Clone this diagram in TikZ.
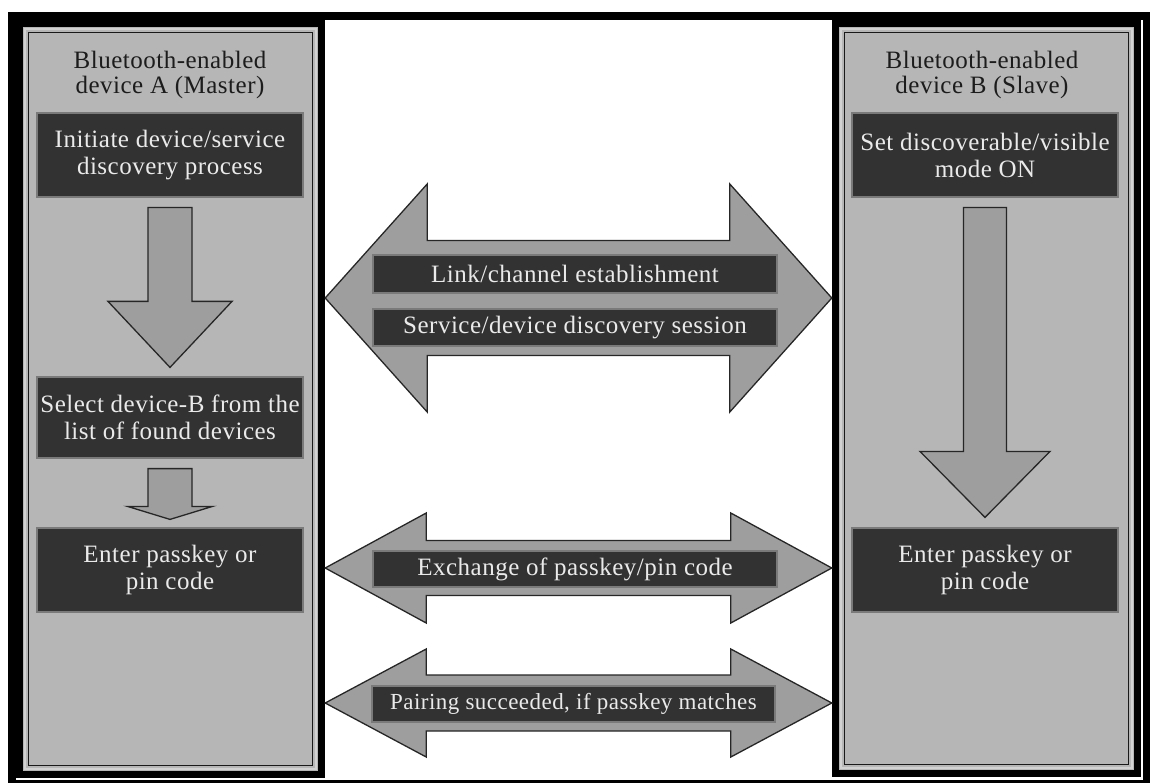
\documentclass[tikz,border=0pt]{standalone}
\usepackage{fontspec}
\setmainfont{Liberation Serif}[LetterSpace=2]
\usetikzlibrary{calc}
\definecolor{panelgray}{HTML}{B6B6B6}
\definecolor{boxdark}{HTML}{323232}
\definecolor{boxedge}{HTML}{7A7A7A}
\definecolor{arrowfill}{HTML}{9E9E9E}
\definecolor{lighttext}{HTML}{EAEAEA}
\definecolor{darktext}{HTML}{1C1C1C}
\definecolor{rimlight}{HTML}{D2D2D2}

\newcommand\blockdown[5]{%
  \path[blockarrow] let \p1=(#1), \p2=(#2) in
    (\x1-#3,\y1) -- (\x1+#3,\y1) -- (\x1+#3,\y2+#5) -- (\x1+#4,\y2+#5)
    -- (\x1,\y2) -- (\x1-#4,\y2+#5) -- (\x1-#3,\y2+#5) -- cycle;}
\newcommand\blockboth[5]{%
  \path[blockarrow] let \p1=(#1), \p2=(#2) in
    (\x1,\y1) -- (\x1+#5,\y1+#3) -- (\x1+#5,\y1+#4) -- (\x2-#5,\y1+#4)
    -- (\x2-#5,\y1+#3) -- (\x2,\y1) -- (\x2-#5,\y1-#3) -- (\x2-#5,\y1-#4)
    -- (\x1+#5,\y1-#4) -- (\x1+#5,\y1-#3) -- cycle;}

\begin{document}
\begin{tikzpicture}[x=1pt,y=-1pt,
  panelbox/.style={rectangle, fill=panelgray, draw=none, inner sep=0pt},
  darkbox/.style={rectangle, fill=boxdark, draw=boxedge, line width=1.2pt,
    text=lighttext, align=center, inner sep=0pt, minimum width=266pt,
    font=\fontsize{25}{27}\selectfont},
  midbox/.style={rectangle, fill=boxdark, draw=boxedge, line width=1.2pt,
    text=lighttext, align=center, inner sep=0pt, minimum width=404pt,
    font=\fontsize{25}{27}\selectfont},
  titletext/.style={align=center, text=darktext, inner sep=0pt,
    font=\fontsize{25}{25.5}\selectfont},
  blockarrow/.style={fill=arrowfill, draw=black!85, line width=1.3pt, line join=miter}
]
\useasboundingbox (0,0) rectangle (1151,783);
\fill[white] (0,0) rectangle (1151,783);

% outer frame
\fill[black] (8,12) rectangle (1150,20);
\fill[black] (8,12) rectangle (16,783);
\fill[black] (1143,12) rectangle (1150,783);
\fill[black] (8,779.5) rectangle (1150,783);

% panels
\node[panelbox, minimum width=309pt, minimum height=758pt] (lp) at (170.5,399) {};
\node[panelbox, minimum width=309pt, minimum height=757pt] (rp) at (986.5,398.5) {};
\foreach \p in {lp,rp}{
  \draw[black, line width=7pt] ([shift={(3.5,3.5)}]\p.north west) rectangle ([shift={(-3.5,-3.5)}]\p.south east);
  \draw[rimlight, line width=1.5pt] ([shift={(9,9)}]\p.north west) rectangle ([shift={(-9,-9)}]\p.south east);
  \draw[black!90, line width=1.5pt] ([shift={(12.5,12.5)}]\p.north west) rectangle ([shift={(-12.5,-12.5)}]\p.south east);
}

% titles
\node[titletext] (lt) at (170,75) {Bluetooth-enabled\\device A (Master)};
\node[titletext] (rt) at (982,75) {Bluetooth-enabled\\device B (Slave)};

% panel boxes
\node[darkbox, minimum height=84pt] (l1) at (170,155) {Initiate device/service\\discovery process};
\node[darkbox, minimum height=81pt] (l2) at (170,417.5) {Select device-B from the\\list of found devices};
\node[darkbox, minimum height=84pt] (l3) at (170,570) {Enter passkey or\\pin code};
\node[darkbox, minimum height=84pt] (r1) at (985,155) {Set discoverable/visible\\mode ON};
\node[darkbox, minimum height=84pt] (r2) at (985,570) {Enter passkey or\\pin code};

% vertical block arrows
\coordinate (v1a) at ($(l1.south)+(0,10)$);
\coordinate (v1b) at ($(l2.north)+(0,-9)$);
\blockdown{v1a}{v1b}{22pt}{62pt}{66pt}
\coordinate (v2a) at ($(l2.south)+(0,10)$);
\coordinate (v2b) at ($(l3.north)+(0,-8)$);
\blockdown{v2a}{v2b}{22pt}{42.5pt}{13pt}
\coordinate (v3a) at ($(r1.south)+(0,10)$);
\coordinate (v3b) at ($(r2.north)+(0,-10)$);
\blockdown{v3a}{v3b}{21.5pt}{65pt}{66pt}

% horizontal double block arrows between the panels
\coordinate (h1a) at (0,298 -| lp.east);
\coordinate (h1b) at (0,298 -| rp.west);
\blockboth{h1a}{h1b}{114pt}{57.5pt}{102pt}
\coordinate (h2a) at (0,568 -| lp.east);
\coordinate (h2b) at (0,568 -| rp.west);
\blockboth{h2a}{h2b}{55pt}{27.5pt}{101pt}
\coordinate (h3a) at (0,703 -| lp.east);
\coordinate (h3b) at (0,703 -| rp.west);
\blockboth{h3a}{h3b}{54pt}{28pt}{101pt}

% middle boxes
\node[midbox, minimum height=38pt] (link) at (575,274) {Link/channel establishment};
\node[midbox, minimum height=37pt] (serv) at (575,327.5) {Service/device discovery session};
\node[midbox, minimum height=36pt] (exch) at (575,569) {Exchange of passkey/pin code};
\node[midbox, minimum width=403pt, minimum height=36pt, font=\fontsize{23}{25}\selectfont] (pair) at (573.5,704) {Pairing succeeded, if passkey matches};
\end{tikzpicture}
\end{document}
